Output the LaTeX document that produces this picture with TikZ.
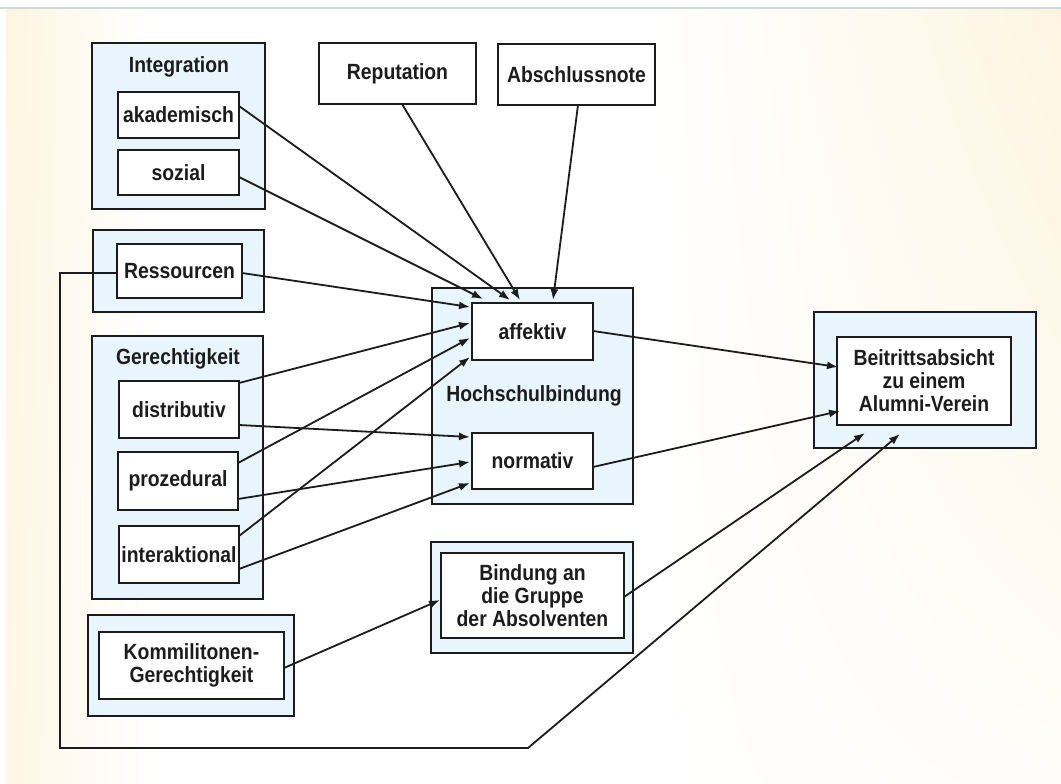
\documentclass[tikz,border=0pt]{standalone}
\usepackage{fontspec}
\setmainfont{Liberation Sans}[FakeStretch=0.88]
\usetikzlibrary{arrows.meta,calc,shadings}

\definecolor{panelblue}{RGB}{233,245,253}
\definecolor{inkdark}{RGB}{28,28,28}
\definecolor{cream}{RGB}{254,245,225}
\definecolor{rulegray}{RGB}{204,218,218}

\tikzset{
  lbl/.style={font=\bfseries\fontsize{22}{23}\selectfont, text=inkdark, align=center},
  groupbox/.style={draw=inkdark, line width=2pt, fill=panelblue, inner sep=0pt, outer sep=0pt},
  itembox/.style={draw=inkdark, line width=2pt, fill=white, inner sep=0pt, outer sep=0pt,
    lbl},
  link/.style={draw=inkdark, line width=1.8pt, -{Latex[length=11pt,width=8pt]}},
}

\begin{document}
\begin{tikzpicture}[x=1pt,y=-1pt]
\useasboundingbox (0,0) rectangle (1061,784);

% slide background with soft cream edges
\fill[white] (0,0) rectangle (1061,784);
\begin{scope}
  \clip (6,8) rectangle (1061,784);
  \shade[upper left=cream, lower left=cream!85, upper right=white, lower right=white]
    (6,8) rectangle (150,784);
  \shade[upper left=white, lower left=white, upper right=cream, lower right=cream!20]
    (660,8) rectangle (1061,784);
\end{scope}
\draw[rulegray, line width=1.8pt] (0,8) -- (1061,8);

% group frames
\node[groupbox, minimum width=173pt, minimum height=166pt] (integOuter) at (178.5,126) {};
\node[lbl] (integTitle) at (179,67) {Integration};
\node[groupbox, minimum width=171pt, minimum height=82pt] (resOuter) at (178.5,271) {};
\node[groupbox, minimum width=171pt, minimum height=263pt] (gerOuter) at (177.5,467.5) {};
\node[lbl] (gerTitle) at (178,359) {Gerechtigkeit};
\node[groupbox, minimum width=206pt, minimum height=101pt] (kommOuter) at (191,665.5) {};
\node[groupbox, minimum width=201pt, minimum height=216pt] (hochOuter) at (532.5,396) {};
\node[lbl] (hochTitle) at (534,396) {Hochschulbindung};
\node[groupbox, minimum width=202pt, minimum height=111pt] (bindOuter) at (532,597.5) {};
\node[groupbox, minimum width=222pt, minimum height=136pt] (beitOuter) at (925,380) {};

% items
\node[itembox, minimum width=121pt, minimum height=46pt] (akad) at (178.5,115) {akademisch};
\node[itembox, minimum width=121pt, minimum height=45pt] (sozial) at (178.5,172.5) {sozial};
\node[itembox, minimum width=125pt, minimum height=54pt] (res) at (179.5,271) {Ressourcen};
\node[itembox, minimum width=120pt, minimum height=57pt] (dist) at (179,409.5) {distributiv};
\node[itembox, minimum width=120pt, minimum height=58pt] (proz) at (178,481) {prozedural};
\node[itembox, minimum width=120pt, minimum height=57pt] (inter) at (179,554.5) {interaktional};
\node[itembox, minimum width=185pt, minimum height=67pt] (komm) at (191.5,665.5) {Kommilitonen-\\Gerechtigkeit};
\node[itembox, minimum width=157pt, minimum height=61pt] (rep) at (397.5,73.5) {Reputation};
\node[itembox, minimum width=157pt, minimum height=61pt] (absch) at (576.5,74.5) {Abschlussnote};
\node[itembox, minimum width=121pt, minimum height=57pt] (aff) at (532.5,331.5) {affektiv};
\node[itembox, minimum width=121pt, minimum height=56pt] (norm) at (532.5,461) {normativ};
\node[itembox, minimum width=183pt, minimum height=85pt] (bind) at (532.5,595.5) {Bindung an\\die Gruppe\\der Absolventen};
\node[itembox, minimum width=174pt, minimum height=88pt] (beit) at (924,381) {Beitrittsabsicht\\zu einem\\Alumni-Verein};

% influences on affective commitment
\draw[link] ($(akad.east)+(0,-9)$) -- ($(aff.north west)+(38,-3)$);
\draw[link] ($(sozial.east)+(0,4.5)$) -- ($(aff.north west)+(11,-4)$);
\draw[link] ($(rep.south)+(4.5,0)$) -- ($(aff.north west)+(48,-3)$);
\draw[link] ($(absch.south)+(1.5,0)$) -- ($(aff.north west)+(81,-3)$);
\draw[link] ($(res.east)+(0,2)$) -- ($(aff.west)+(-2,-24.5)$);
\draw[link] ($(dist.east)+(0,-26.5)$) -- ($(aff.west)+(-2,-8.5)$);
\draw[link] ($(proz.east)+(0,-18)$) -- ($(aff.west)+(-2,6.5)$);
\draw[link] ($(inter.east)+(0,-18.5)$) -- ($(aff.west)+(-2,25.5)$);

% influences on normative commitment
\draw[link] ($(dist.east)+(0,15.5)$) -- ($(norm.west)+(-2,-24)$);
\draw[link] ($(proz.east)+(0,18)$) -- ($(norm.west)+(-2,1)$);
\draw[link] ($(inter.east)+(0,14.5)$) -- ($(norm.west)+(-2,22)$);

% towards the intention to join
\draw[link] ($(aff.east)+(0,-0.5)$) -- ($(beit.west)+(1,-14)$);
\draw[link] ($(norm.east)+(0,6)$) -- ($(beit.west)+(3,30)$);
\draw[link] ($(bind.east)+(0,1.5)$) -- ($(beit.south west)+(28,8)$);
\draw[link] ($(komm.east)+(0,2.5)$) -- ($(bind.west)+(-1,4.5)$);

% resources routed around the left and bottom
\coordinate (bendTop) at (60,273);
\coordinate (bendBot) at (60,748);
\coordinate (bendRight) at (528,748);
\draw[link] ($(res.west)+(0,2)$) -- (bendTop) -- (bendBot) -- (bendRight) -- ($(beit.south west)+(63,9)$);
\end{tikzpicture}
\end{document}
